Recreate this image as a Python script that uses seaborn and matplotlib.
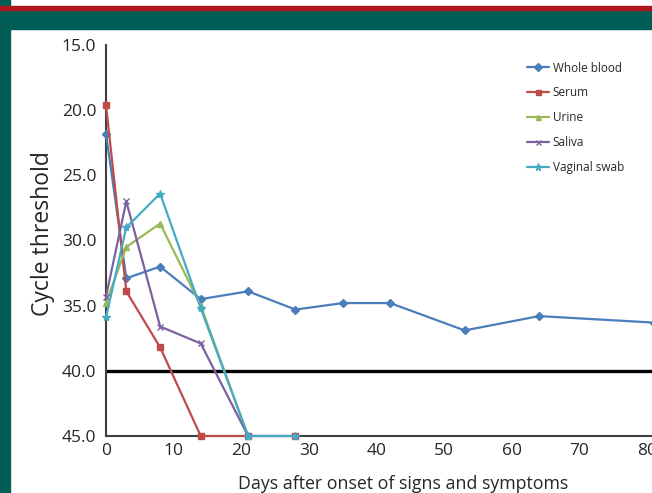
# Ct values by sample type, days after onset
import matplotlib.pyplot as plt
import matplotlib.patches as mpatches
import pandas as pd
import seaborn as sns

blood_days = [0, 3, 8, 14, 21, 28, 35, 42, 53, 64, 81]
blood_ct = [21.8, 32.9, 32.0, 34.5, 33.9, 35.3, 34.8, 34.8, 36.9, 35.8, 36.3]
serum_days = [0, 3, 8, 14, 21, 28]
serum_ct = [19.6, 33.9, 38.2, 45.0, 45.0, 45.0]
urine_days = [0, 3, 8, 14, 21]
urine_ct = [34.8, 30.5, 28.7, 35.0, 45.0]
saliva_days = [0, 3, 8, 14, 21]
saliva_ct = [34.3, 27.0, 36.6, 37.9, 45.0]
swab_days = [0, 3, 8, 14, 21, 28]
swab_ct = [35.9, 29.0, 26.4, 35.2, 45.0, 45.0]

names = ['Whole blood', 'Serum', 'Urine', 'Saliva', 'Vaginal swab']
colors = ['#4A7EBB', '#BE4B48', '#98B954', '#7D60A0', '#46AAC5']
markers = ['D', 's', '^', 'x', '*']

series = [(blood_days, blood_ct), (serum_days, serum_ct), (urine_days, urine_ct),
          (saliva_days, saliva_ct), (swab_days, swab_ct)]
df = pd.concat([pd.DataFrame({'day': d, 'ct': c, 'sample': n})
                for (d, c), n in zip(series, names)], ignore_index=True)

sns.set_style('white')
plt.rcParams['font.family'] = ['Open Sans', 'DejaVu Sans']

fig = plt.figure(figsize=(6.52, 4.93), dpi=100)
fig.patch.set_facecolor('white')
# slide frame
fig.patches.append(mpatches.Rectangle((0, 0), 10 / 652, 1, transform=fig.transFigure, color='#005E56', zorder=0))
fig.patches.append(mpatches.Rectangle((0, 1 - 29 / 493), 1, 19 / 493, transform=fig.transFigure, color='#005E56', zorder=0))
fig.patches.append(mpatches.Rectangle((0, 1 - 10 / 493), 1, 4 / 493, transform=fig.transFigure, color='#B0171C', zorder=0))

ax = fig.add_axes([106 / 652, 1 - 436 / 493, 609 / 652, 391 / 493])
ax.set_facecolor('none')

for n, col, m in zip(names, colors, markers):
    sub = df[df['sample'] == n]
    sns.lineplot(data=sub, x='day', y='ct', ax=ax, color=col, marker=m,
                 markersize=4 if m != '*' else 6, markeredgecolor=col, markeredgewidth=1.0,
                 linewidth=1.6, label=n, clip_on=False, zorder=3)

ax.axhline(40, color='black', linewidth=2.4, zorder=2)

ax.set_xlim(0, 90)
ax.set_ylim(45, 15)
ax.set_xticks(range(0, 91, 10))
ax.set_yticks([15, 20, 25, 30, 35, 40, 45])
ax.set_yticklabels(['%.1f' % v for v in [15, 20, 25, 30, 35, 40, 45]])

for s in ['top', 'right']:
    ax.spines[s].set_visible(False)
for s in ['left', 'bottom']:
    ax.spines[s].set_color('#404040')
    ax.spines[s].set_linewidth(1.5)
ax.tick_params(axis='y', direction='out', length=4, width=1.2, color='#404040', labelsize=12.5, pad=3)
ax.tick_params(axis='x', direction='inout', length=6, width=1.2, color='#404040', labelsize=12.5, pad=2)

ax.set_xlabel('Days after onset of signs and symptoms', fontsize=12.8)
ax.set_ylabel('Cycle threshold', fontsize=16.5)
ax.xaxis.set_label_coords((403 - 106) / 609, -(475 - 436) / 391)
ax.yaxis.set_label_coords(-(106 - 55) / 609, (436 - 234) / 391)

leg = ax.legend(loc='upper left', bbox_to_anchor=(516 / 652, 1 - 51 / 493), bbox_transform=fig.transFigure,
                frameon=False, fontsize=8.5, handlelength=1.9, handletextpad=0.3, labelspacing=1.0,
                markerscale=0.9)

fig.savefig('out.png', dpi=100)
